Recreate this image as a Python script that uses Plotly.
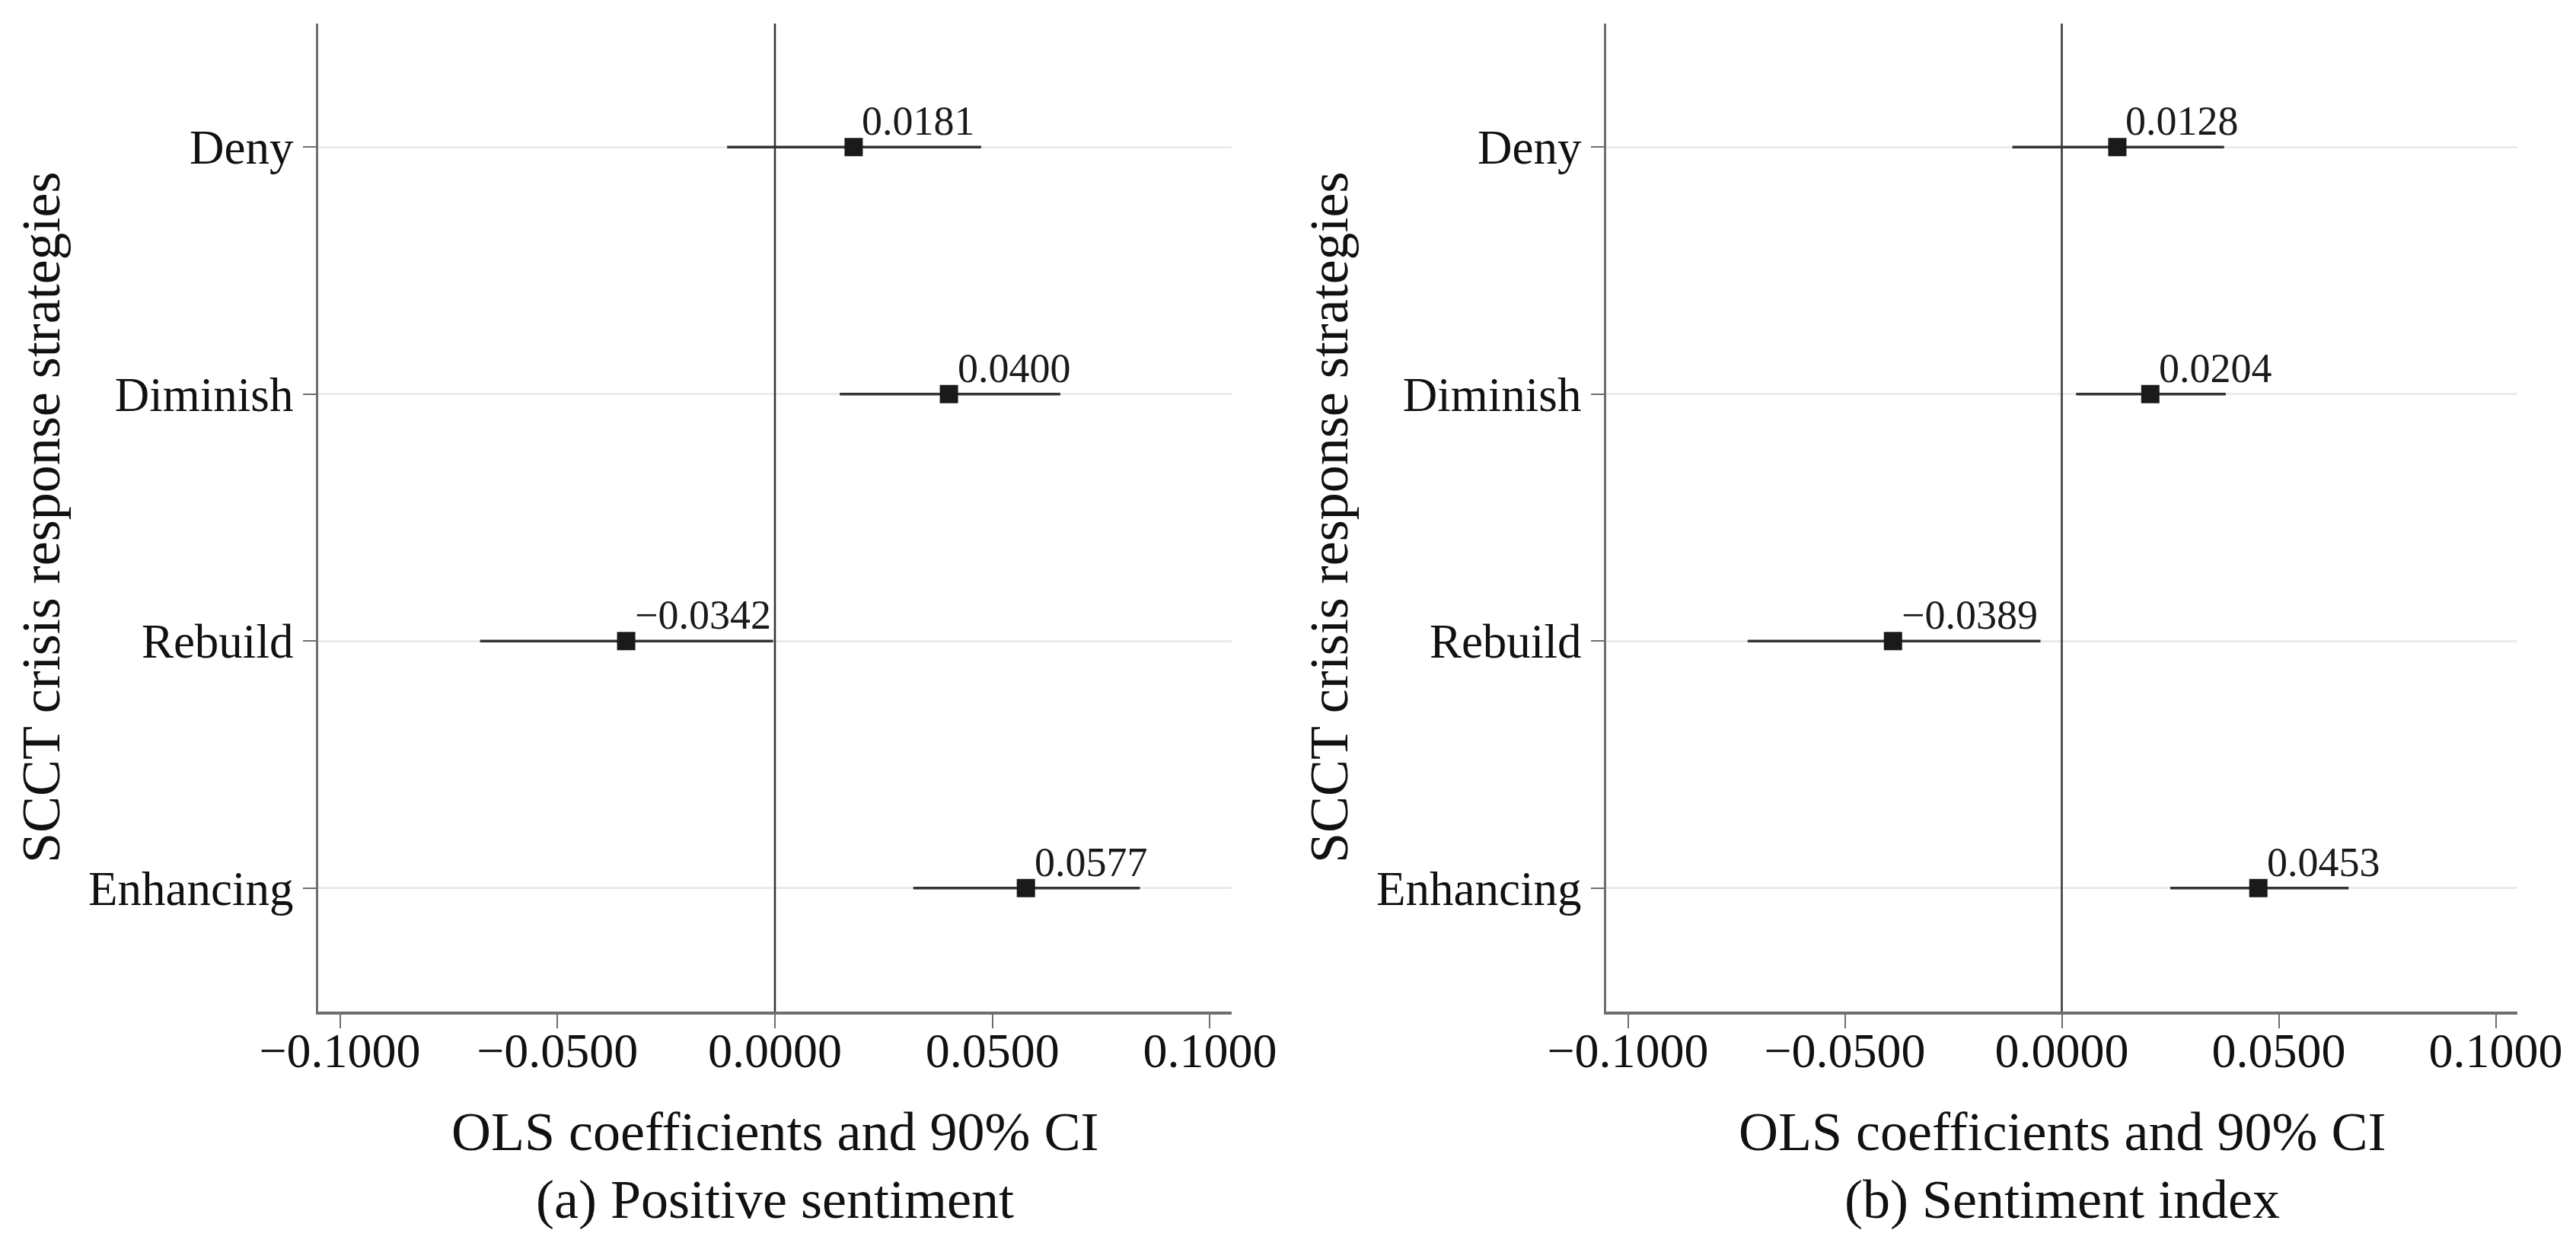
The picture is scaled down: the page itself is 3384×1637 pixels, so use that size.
import plotly.graph_objects as go

categories = ["Deny", "Diminish", "Rebuild", "Enhancing"]

# (a) Positive sentiment
pos_coef = [0.0181, 0.0400, -0.0342, 0.0577]
pos_lo = [-0.0110, 0.0149, -0.0678, 0.0318]
pos_hi = [0.0474, 0.0656, -0.0004, 0.0839]

# (b) Sentiment index
idx_coef = [0.0128, 0.0204, -0.0389, 0.0453]
idx_lo = [-0.0114, 0.0033, -0.0724, 0.0250]
idx_hi = [0.0374, 0.0378, -0.0049, 0.0661]

xtick_vals = [-0.1, -0.05, 0.0, 0.05, 0.1]
x_title = "OLS coefficients and 90% CI"
y_title = "SCCT crisis response strategies"
subtitles = ["(a) Positive sentiment", "(b) Sentiment index"]

FONT = "Liberation Serif, Times New Roman, serif"
W, H = 3384, 1637


def fmt(v):
    s = f"{abs(v):.4f}"
    return ("\u2212" + s) if v < 0 else s


fig = go.Figure()
panels = [(pos_coef, pos_lo, pos_hi, "x", "y"), (idx_coef, idx_lo, idx_hi, "x2", "y2")]
for coef, lo, hi, xa, ya in panels:
    fig.add_trace(go.Scatter(
        x=coef, y=categories, xaxis=xa, yaxis=ya, mode="markers",
        marker=dict(symbol="square", size=24, color="#1a1a1a"),
        error_x=dict(type="data", symmetric=False,
                     array=[h - c for h, c in zip(hi, coef)],
                     arrayminus=[c - l for c, l in zip(coef, lo)],
                     width=0, thickness=3.5, color="#333333"),
        showlegend=False, hoverinfo="skip"))
    for c, cat in zip(coef, categories):
        fig.add_annotation(x=c, y=cat, xref=xa, yref=ya, text=fmt(c),
                           showarrow=False, xanchor="left", yanchor="bottom",
                           xshift=9, yshift=2,
                           font=dict(family=FONT, size=54, color="#1a1a1a"))
    fig.add_shape(type="line", xref=xa, yref=ya + " domain", x0=0, x1=0, y0=0, y1=1,
                  line=dict(color="#333333", width=2.5), layer="above")

xdoms = [[418 / W, 1618 / W], [2110 / W, 3307 / W]]
ydom = [1 - 1329 / H, 1 - 31 / H]

xaxis_common = dict(range=[-0.105, 0.105], tickvals=xtick_vals, tickformat=".4f",
                    showgrid=False, zeroline=False, showline=True, automargin=False,
                    linecolor="#6e6e6e", linewidth=3.5, ticks="outside",
                    ticklen=18, tickwidth=2, tickcolor="#6e6e6e",
                    ticklabelstandoff=-26,
                    tickfont=dict(family=FONT, size=64, color="#111111"))
yaxis_common = dict(type="category", categoryorder="array", categoryarray=categories,
                    range=[3.5, -0.5], showgrid=True, gridcolor="#ebebeb", gridwidth=3,
                    zeroline=False, showline=True, linecolor="#6e6e6e", linewidth=3,
                    automargin=False,
                    ticks="outside", ticklen=17, tickwidth=2, tickcolor="#6e6e6e",
                    tickfont=dict(family=FONT, size=63, color="#111111"),
                    domain=ydom)

fig.update_layout(
    width=W, height=H, margin=dict(l=0, r=0, t=0, b=0, autoexpand=False),
    paper_bgcolor="white", plot_bgcolor="white",
    xaxis=dict(domain=xdoms[0], anchor="y", **xaxis_common),
    xaxis2=dict(domain=xdoms[1], anchor="y2", **xaxis_common),
    yaxis=dict(anchor="x", **yaxis_common),
    yaxis2=dict(anchor="x2", **yaxis_common),
)

ytitle_x = [54 / W, 1746 / W]
for i in range(2):
    cx = (xdoms[i][0] + xdoms[i][1]) / 2
    fig.add_annotation(x=cx, y=1 - 1487 / H, xref="paper", yref="paper", text=x_title,
                       showarrow=False, xanchor="center", yanchor="middle",
                       font=dict(family=FONT, size=72, color="#111111"))
    fig.add_annotation(x=cx, y=1 - 1576 / H, xref="paper", yref="paper", text=subtitles[i],
                       showarrow=False, xanchor="center", yanchor="middle",
                       font=dict(family=FONT, size=72, color="#111111"))
    fig.add_annotation(x=ytitle_x[i], y=(ydom[0] + ydom[1]) / 2, xref="paper", yref="paper",
                       text=y_title, textangle=-90, showarrow=False,
                       xanchor="center", yanchor="middle",
                       font=dict(family=FONT, size=72, color="#111111"))

fig.write_html("out.html", config={"displayModeBar": False},
               post_script="document.body.style.margin='0';")
